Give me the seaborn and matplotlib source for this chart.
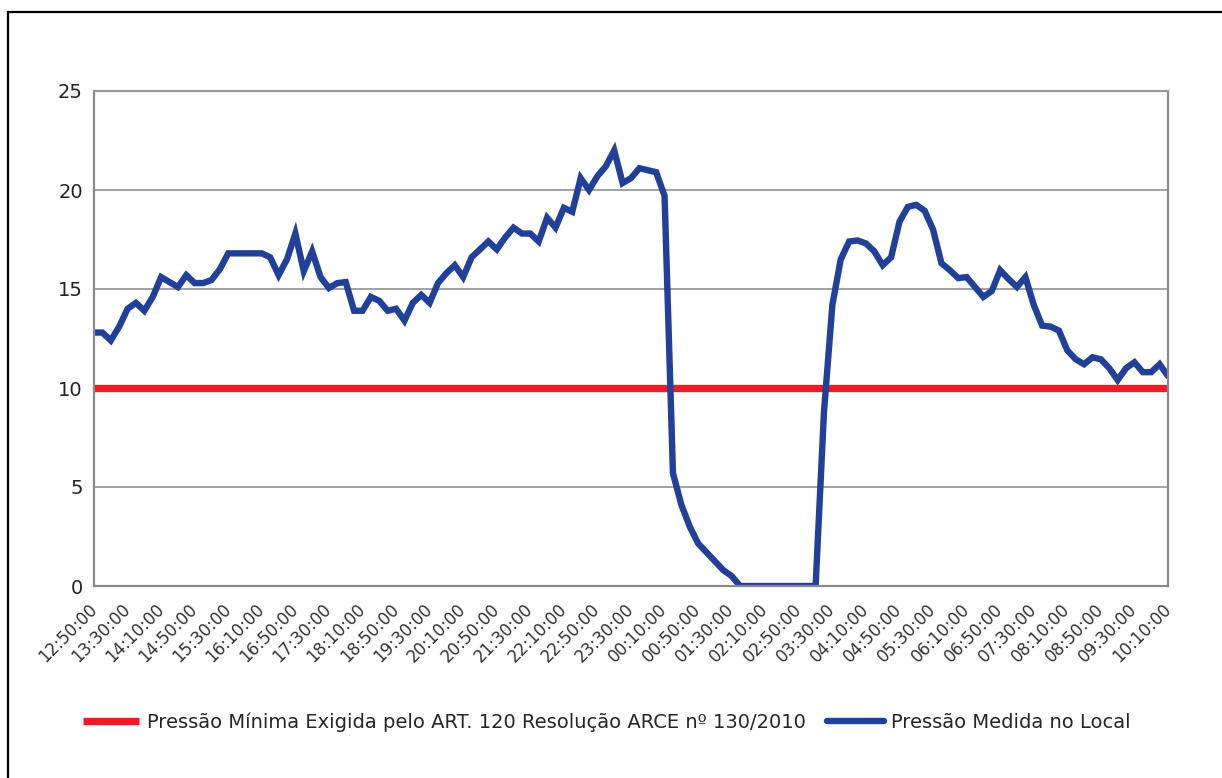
"""Pressao medida no local vs pressao minima exigida (ARCE 130/2010)."""

import matplotlib

matplotlib.use("Agg")

import matplotlib.pyplot as plt
import pandas as pd
import seaborn as sns
from matplotlib.patches import Rectangle

# leituras a cada 10 minutos, de 12:50 ate 10:10 do dia seguinte (mca)
PRESSAO_MEDIDA = [
    12.8, 12.8, 12.4, 13.1, 14.0, 14.3, 13.9, 14.6, 15.6, 15.35,
    15.1, 15.7, 15.3, 15.3, 15.45, 16.0, 16.8, 16.8, 16.8, 16.8,
    16.8, 16.6, 15.7, 16.5, 17.8, 15.9, 16.9, 15.6, 15.05, 15.3,
    15.35, 13.9, 13.9, 14.6, 14.4, 13.9, 14.0, 13.4, 14.3, 14.7,
    14.3, 15.3, 15.8, 16.2, 15.6, 16.6, 17.0, 17.4, 17.0, 17.6,
    18.1, 17.8, 17.8, 17.4, 18.6, 18.1, 19.1, 18.9, 20.6, 20.0,
    20.7, 21.2, 22.0, 20.35, 20.6, 21.1, 21.0, 20.9, 19.7, 5.7,
    4.1, 3.0, 2.15, 1.7, 1.25, 0.8, 0.5, 0.0, 0.0, 0.0,
    0.0, 0.0, 0.0, 0.0, 0.0, 0.0, 0.0, 8.8, 14.2, 16.5,
    17.4, 17.45, 17.3, 16.9, 16.2, 16.6, 18.4, 19.15, 19.25, 18.95,
    18.0, 16.3, 15.95, 15.55, 15.6, 15.1, 14.6, 14.9, 15.95, 15.5,
    15.1, 15.6, 14.2, 13.15, 13.1, 12.9, 11.9, 11.45, 11.2, 11.55,
    11.45, 11.0, 10.4, 11.0, 11.3, 10.8, 10.8, 11.2, 10.6,
]

# pressao minima exigida pelo Art. 120 (mca)
PRESSAO_MINIMA = [10.0] * len(PRESSAO_MEDIDA)

TICK_LABELS = [
    "12:50:00", "13:30:00", "14:10:00", "14:50:00", "15:30:00", "16:10:00",
    "16:50:00", "17:30:00", "18:10:00", "18:50:00", "19:30:00", "20:10:00",
    "20:50:00", "21:30:00", "22:10:00", "22:50:00", "23:30:00", "00:10:00",
    "00:50:00", "01:30:00", "02:10:00", "02:50:00", "03:30:00", "04:10:00",
    "04:50:00", "05:30:00", "06:10:00", "06:50:00", "07:30:00", "08:10:00",
    "08:50:00", "09:30:00", "10:10:00",
]

Y_TICKS = [0, 5, 10, 15, 20, 25]

LABEL_MINIMA = "Pressão Mínima Exigida pelo ART. 120 Resolução ARCE nº 130/2010"
LABEL_MEDIDA = "Pressão Medida no Local"

RED = "#ED1C24"
BLUE = "#21409A"
GRID = "#9a9a9a"
SPINE = "#8a8a8a"


def main() -> None:
    sns.set_theme(style="white")
    plt.rcParams["font.family"] = ["DejaVu Sans"]

    horarios = pd.date_range("2010-01-01 12:50", periods=len(PRESSAO_MEDIDA), freq="10min")
    df = pd.DataFrame(
        {"horario": horarios, "minima": PRESSAO_MINIMA, "medida": PRESSAO_MEDIDA}
    )

    fig = plt.figure(figsize=(12.22, 7.78), dpi=100)
    ax = fig.add_axes([94 / 1222, 1 - 586 / 778, (1168 - 94) / 1222, (586 - 91) / 778])

    sns.lineplot(data=df, x="horario", y="minima", ax=ax, color=RED, linewidth=5.3,
                 label=LABEL_MINIMA, solid_capstyle="butt")
    sns.lineplot(data=df, x="horario", y="medida", ax=ax, color=BLUE, linewidth=4.6,
                 label=LABEL_MEDIDA, solid_joinstyle="miter")

    ax.set_xlim(horarios[0], horarios[-1])
    ax.set_ylim(0, 25)
    ax.set_yticks(Y_TICKS)
    ax.set_yticklabels([str(v) for v in Y_TICKS], fontsize=14, color="#222222")
    ax.set_xticks(horarios[::4])
    ax.set_xticklabels(TICK_LABELS, rotation=45, ha="right", va="center",
                       rotation_mode="anchor", fontsize=12, color="#333333")
    ax.tick_params(axis="both", length=0)
    ax.tick_params(axis="y", pad=8)
    ax.tick_params(axis="x", pad=15)
    ax.set_xlabel("")
    ax.set_ylabel("")

    ax.yaxis.grid(True, color=GRID, linewidth=1.3)
    ax.xaxis.grid(False)
    ax.set_axisbelow(True)
    for side in ["left", "right", "top", "bottom"]:
        ax.spines[side].set_color(SPINE)
        ax.spines[side].set_linewidth(1.6)
    ax.spines["top"].set_color(GRID)

    ax.get_legend().remove()
    handles, labels = ax.get_legend_handles_labels()
    fig.legend(handles, labels, loc="center", bbox_to_anchor=(0.4967, 1 - 722 / 778),
               ncol=2, frameon=False, handlelength=2.9, handletextpad=0.4,
               columnspacing=1.1, prop={"size": 14})

    # moldura preta do grafico
    fig.patches.append(Rectangle((8 / 1222, -0.1), 1.2, 1.1 - 12 / 778,
                                 transform=fig.transFigure, fill=False,
                                 edgecolor="black", linewidth=1.6))

    fig.savefig("out.png", dpi=100)
    plt.close(fig)


if __name__ == "__main__":
    main()
